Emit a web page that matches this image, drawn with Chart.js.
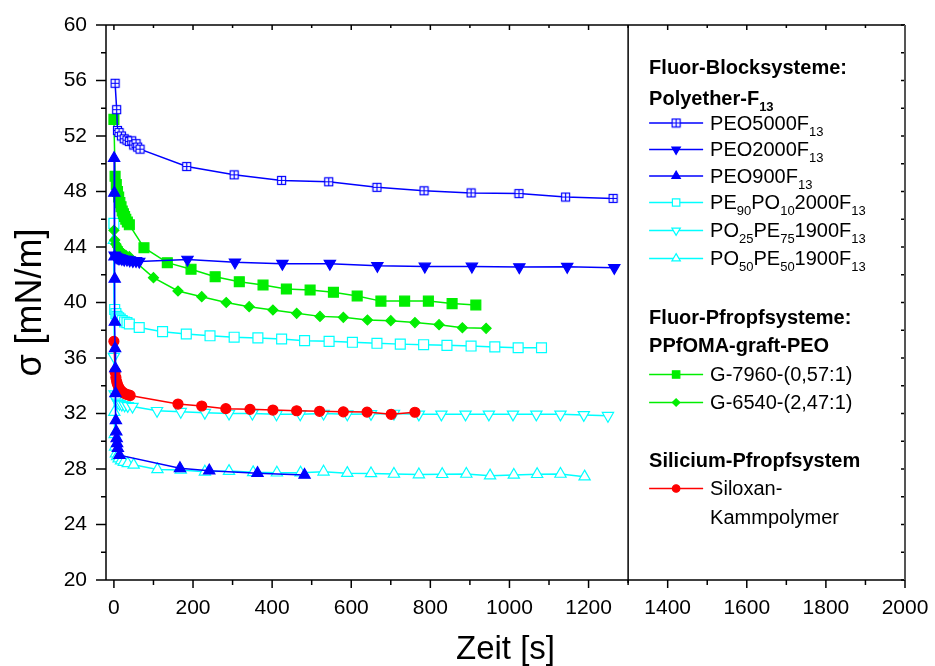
<!DOCTYPE html>
<html>
<head>
<meta charset="utf-8">
<script src="https://cdn.jsdelivr.net/npm/chart.js@4.4.0/dist/chart.umd.min.js"></script>
<style>
  html, body { margin: 0; padding: 0; background: #fff; }
</style>
</head>
<body>
<canvas id="surfaceChart" width="935" height="666"></canvas>
<script>
const FONT = '"Liberation Sans", Arial, Helvetica, sans-serif'

// tick values
const xTicks = [0, 200, 400, 600, 800, 1000, 1200, 1400, 1600, 1800, 2000]
const yTicks = [20, 24, 28, 32, 36, 40, 44, 48, 52, 56, 60]

// Zeit [s] / sigma [mN/m] per system
const peo5000T = [3, 7, 9, 13, 19, 26, 33, 39, 45, 50, 56, 60, 66, 184, 304, 424, 543, 665, 784, 903, 1024, 1142, 1262]
const peo5000S = [55.8, 53.9, 52.4, 52.25, 52.0, 51.8, 51.7, 51.6, 51.65, 51.35, 51.45, 51.2, 51.05, 49.8, 49.2, 48.8, 48.7, 48.3, 48.05, 47.9, 47.85, 47.6, 47.5]

const peo2000T = [2, 5, 8, 11, 15, 20, 26, 33, 40, 48, 56, 64, 186, 306, 426, 546, 666, 786, 905, 1025, 1146, 1265]
const peo2000S = [43.4, 43.3, 43.25, 43.2, 43.2, 43.15, 43.1, 43.1, 43.05, 43.0, 43.0, 42.95, 43.1, 42.9, 42.8, 42.8, 42.65, 42.6, 42.6, 42.55, 42.58, 42.5]

const peo900T = [0.5, 1, 1.5, 2, 2.5, 3, 3.5, 4, 5, 6, 7, 8, 10, 14, 167, 241, 363, 482]
const peo900S = [50.4, 47.9, 43.3, 41.7, 38.6, 36.7, 35.25, 33.45, 31.5, 30.7, 30.2, 29.85, 29.5, 29.0, 28.05, 27.88, 27.7, 27.57]

const pe90T = [0, 2, 5, 8, 12, 16, 21, 27, 33, 39, 64, 123, 183, 243, 304, 364, 424, 482, 544, 603, 665, 724, 783, 842, 903, 963, 1022, 1081]
const pe90S = [45.7, 39.5, 39.2, 39.0, 38.9, 38.8, 38.7, 38.6, 38.55, 38.45, 38.2, 37.9, 37.73, 37.6, 37.5, 37.45, 37.37, 37.25, 37.2, 37.13, 37.06, 37.0, 36.96, 36.91, 36.86, 36.8, 36.74, 36.74]

const po25T = [0, 2, 5, 9, 14, 20, 27, 35, 47, 109, 169, 230, 291, 350, 411, 471, 530, 590, 650, 708, 771, 828, 889, 948, 1009, 1068, 1129, 1188, 1249]
const po25S = [36.1, 33.4, 33.0, 32.8, 32.7, 32.65, 32.6, 32.55, 32.5, 32.2, 32.13, 32.06, 32.0, 32.0, 31.95, 31.95, 32.0, 31.95, 31.97, 32.0, 31.94, 31.94, 31.94, 31.94, 31.94, 31.94, 31.94, 31.9, 31.84]

const po50T = [0, 1, 2, 3, 5, 8, 12, 18, 25, 35, 50, 110, 169, 230, 291, 352, 412, 472, 530, 590, 650, 708, 771, 830, 891, 951, 1011, 1070, 1129, 1190]
const po50S = [44.5, 32.1, 30.5, 29.6, 29.1, 28.9, 28.75, 28.6, 28.5, 28.4, 28.3, 27.97, 27.93, 27.8, 27.85, 27.76, 27.73, 27.73, 27.8, 27.7, 27.68, 27.64, 27.6, 27.62, 27.64, 27.52, 27.57, 27.62, 27.64, 27.45]

const g7960T = [0, 3, 6, 9, 12, 15, 18, 21, 24, 27, 30, 34, 39, 76, 135, 195, 256, 317, 377, 436, 496, 555, 615, 675, 735, 795, 855, 915]
const g7960S = [53.2, 49.1, 48.5, 48.0, 47.6, 47.2, 46.9, 46.6, 46.4, 46.2, 46.0, 45.8, 45.6, 43.95, 42.87, 42.4, 41.86, 41.5, 41.26, 40.97, 40.9, 40.74, 40.47, 40.1, 40.1, 40.1, 39.92, 39.82]

const g6540T = [0, 2, 5, 9, 13, 18, 24, 30, 39, 100, 162, 222, 284, 342, 402, 462, 521, 580, 641, 700, 761, 822, 881, 941]
const g6540S = [45.2, 44.5, 44.2, 44.0, 43.8, 43.65, 43.5, 43.4, 43.3, 41.79, 40.83, 40.42, 40.0, 39.7, 39.46, 39.22, 39.0, 38.93, 38.74, 38.69, 38.55, 38.4, 38.18, 38.14]

const silT = [0, 3, 5, 7, 9, 12, 15, 19, 24, 30, 36, 41, 162, 222, 283, 344, 402, 462, 520, 580, 640, 701, 761]
const silS = [37.2, 35.0, 34.6, 34.3, 34.1, 33.9, 33.75, 33.6, 33.5, 33.4, 33.35, 33.3, 32.68, 32.54, 32.35, 32.3, 32.25, 32.2, 32.16, 32.12, 32.1, 31.94, 32.09]

const pts = (t, s) => t.map((v, i) => ({ x: v, y: s[i] }))

const BLUE = '#0000ff'
const CYAN = '#00ffff'
const GREEN = '#00ee00'
const RED = '#ff0000'

// square with a plus inside, Chart.js has no such point style
const makeCrossSquare = (size, color) => {
  const c = document.createElement('canvas')
  c.width = size
  c.height = size
  const g = c.getContext('2d')
  const m = size / 2
  g.fillStyle = '#fff'
  g.fillRect(1, 1, size - 2, size - 2)
  g.strokeStyle = color
  g.lineWidth = 1.2
  g.strokeRect(1.5, 1.5, size - 3, size - 3)
  g.beginPath()
  g.moveTo(m, 1.5); g.lineTo(m, size - 1.5)
  g.moveTo(1.5, m); g.lineTo(size - 1.5, m)
  g.stroke()
  return c
}
const crossSquare = makeCrossSquare(11, BLUE)

const series = (label, t, s, color, fill, style, radius, extra = {}) => ({
  label,
  data: pts(t, s),
  showLine: true,
  tension: 0,
  borderColor: color,
  borderWidth: 1.5,
  backgroundColor: fill,
  pointBackgroundColor: fill,
  pointBorderColor: color,
  pointBorderWidth: 1.2,
  pointStyle: style,
  pointRadius: radius,
  ...extra
})

const datasets = [
  series('PEO5000F_{13}', peo5000T, peo5000S, BLUE, '#fff', crossSquare, 6, { order: 3 }),
  series('PEO2000F_{13}', peo2000T, peo2000S, BLUE, BLUE, 'triangle', 6.5, { pointRotation: 180, order: 2 }),
  series('PEO900F_{13}', peo900T, peo900S, BLUE, BLUE, 'triangle', 6.5, { order: 0 }),
  series('PE_{90}PO_{10}2000F_{13}', pe90T, pe90S, CYAN, '#fff', 'rect', 7, { order: 6 }),
  series('PO_{25}PE_{75}1900F_{13}', po25T, po25S, CYAN, '#fff', 'triangle', 6.5, { pointRotation: 180, order: 7 }),
  series('PO_{50}PE_{50}1900F_{13}', po50T, po50S, CYAN, '#fff', 'triangle', 6.5, { order: 8 }),
  series('G-7960-(0,57:1)', g7960T, g7960S, GREEN, GREEN, 'rect', 7, { order: 4 }),
  series('G-6540-(2,47:1)', g6540T, g6540S, GREEN, GREEN, 'rectRot', 5, { order: 5 }),
  series('Siloxan-|Kammpolymer', silT, silS, RED, RED, 'circle', 5, { order: 1 }),
]

// text with _{..} subscripts
const drawRich = (ctx, str, x, y, size, bold) => {
  const parts = str.split(/(_\{[^}]*\})/).filter(Boolean)
  parts.forEach(p => {
    const sub = p.startsWith('_{')
    const txt = sub ? p.slice(2, -1) : p
    ctx.font = `${bold ? 'bold ' : ''}${sub ? Math.round(size * 0.65) : size}px ${FONT}`
    ctx.fillText(txt, x, sub ? y + 8 : y)
    x += ctx.measureText(txt).width
  })
}

// legend rows, dy = distance from previous row
const legendRows = [
  { head: 'Fluor-Blocksysteme:', dy: 0 },
  { head: 'Polyether-F_{13}', dy: 31 },
  { item: 0, dy: 24 },
  { item: 1, dy: 26.5 },
  { item: 2, dy: 26.5 },
  { item: 3, dy: 26.5 },
  { item: 4, dy: 28 },
  { item: 5, dy: 28 },
  { head: 'Fluor-Pfropfsysteme:', dy: 60 },
  { head: 'PPfOMA-graft-PEO', dy: 28 },
  { item: 6, dy: 28 },
  { item: 7, dy: 28 },
  { head: 'Silicium-Pfropfsystem', dy: 59 },
  { item: 8, dy: 27 },
]

const legendPlugin = {
  id: 'richLegend',
  afterDraw(chart) {
    const { ctx, scales: { x } } = chart
    const left = x.getPixelForValue(1300) + 21
    const textX = left + 61
    let y = 68
    ctx.save()
    ctx.fillStyle = '#000'
    ctx.textBaseline = 'middle'
    ctx.textAlign = 'left'
    legendRows.forEach(row => {
      y += row.dy
      if (row.head) {
        ctx.fillStyle = '#000'
        drawRich(ctx, row.head, left, y, 20, true)
        return
      }
      const ds = chart.data.datasets[row.item]
      ctx.strokeStyle = ds.borderColor
      ctx.lineWidth = 1.5
      ctx.beginPath()
      ctx.moveTo(left, y)
      ctx.lineTo(left + 54, y)
      ctx.stroke()
      ctx.fillStyle = ds.pointBackgroundColor
      ctx.strokeStyle = ds.pointBorderColor
      ctx.lineWidth = 1.2
      Chart.helpers.drawPoint(ctx, {
        pointStyle: ds.pointStyle,
        radius: ds.pointRadius * 0.75,
        rotation: ds.pointRotation || 0,
        borderWidth: 1.2
      }, left + 27, y)
      ctx.fillStyle = '#000'
      ds.label.split('|').forEach((line, i) => {
        drawRich(ctx, line, textX, y + 1 + i * 29, 20, false)
      })
    })
    ctx.restore()
  }
}

// box, divider at 1300 s and major/minor tick marks
const framePlugin = {
  id: 'frame',
  afterDatasetsDraw(chart) {
    const { ctx, chartArea: a, scales: { x, y } } = chart
    ctx.save()
    ctx.strokeStyle = '#000'
    ctx.lineWidth = 1.5
    const line = (x1, y1, x2, y2) => {
      ctx.beginPath()
      ctx.moveTo(x1, y1)
      ctx.lineTo(x2, y2)
      ctx.stroke()
    }
    const xv = x.ticks.map(t => t.value)
    xv.forEach((v, i) => {
      const px = x.getPixelForValue(v)
      line(px, a.bottom, px, a.bottom + 8)
      line(px, a.top, px, a.top + 5)
      if (i < xv.length - 1) {
        const mx = x.getPixelForValue((v + xv[i + 1]) / 2)
        line(mx, a.bottom, mx, a.bottom + 5)
        line(mx, a.top, mx, a.top + 3)
      }
    })
    const yv = y.ticks.map(t => t.value)
    yv.forEach((v, i) => {
      const py = y.getPixelForValue(v)
      line(a.left - 10, py, a.left, py)
      line(a.right - 4, py, a.right, py)
      if (i < yv.length - 1) {
        const my = y.getPixelForValue((v + yv[i + 1]) / 2)
        line(a.left - 5, my, a.left, my)
        line(a.right - 4, my, a.right, my)
      }
    })
    line(a.left, a.top, a.right, a.top)
    line(a.left, a.top, a.left, a.bottom)
    line(a.left, a.bottom, a.right, a.bottom)
    const dx = x.getPixelForValue(1300)
    line(dx, a.top, dx, a.bottom + 3)
    ctx.strokeStyle = '#555'
    ctx.lineWidth = 2
    line(a.right, a.top, a.right, a.bottom)
    ctx.restore()
  }
}

new Chart(document.getElementById('surfaceChart'), {
  type: 'scatter',
  data: { datasets },
  options: {
    responsive: false,
    animation: false,
    layout: { padding: { top: 25, right: 30, left: 0, bottom: 0 } },
    plugins: {
      legend: { display: false },
      tooltip: { enabled: false }
    },
    scales: {
      x: {
        type: 'linear',
        min: -20,
        max: 2000,
        afterBuildTicks: s => { s.ticks = xTicks.map(v => ({ value: v })) },
        afterFit: s => { s.height = 86; s.paddingLeft = 0; s.paddingRight = 0 },
        grid: { display: false, drawTicks: false },
        border: { display: false },
        ticks: {
          color: '#000',
          font: { family: FONT, size: 21 },
          padding: 16,
          maxRotation: 0,
          callback: v => String(v)
        },
        title: {
          display: true,
          text: 'Zeit [s]',
          color: '#000',
          font: { family: FONT, size: 33, lineHeight: 1 },
          padding: { top: 0, bottom: 0 }
        }
      },
      y: {
        type: 'linear',
        min: 20,
        max: 60,
        afterBuildTicks: s => { s.ticks = yTicks.map(v => ({ value: v })) },
        afterFit: s => { s.width = 106; s.paddingTop = 0; s.paddingBottom = 0 },
        grid: { display: false, drawTicks: false },
        border: { display: false },
        ticks: {
          color: '#000',
          font: { family: FONT, size: 21 },
          padding: 19,
          callback: v => String(v)
        },
        title: {
          display: true,
          text: 'σ [mN/m]',
          color: '#000',
          font: { family: FONT, size: 36, lineHeight: 1.2 },
          padding: { top: 9, bottom: 0 }
        }
      }
    }
  },
  plugins: [framePlugin, legendPlugin]
})
</script>
</body>
</html>
